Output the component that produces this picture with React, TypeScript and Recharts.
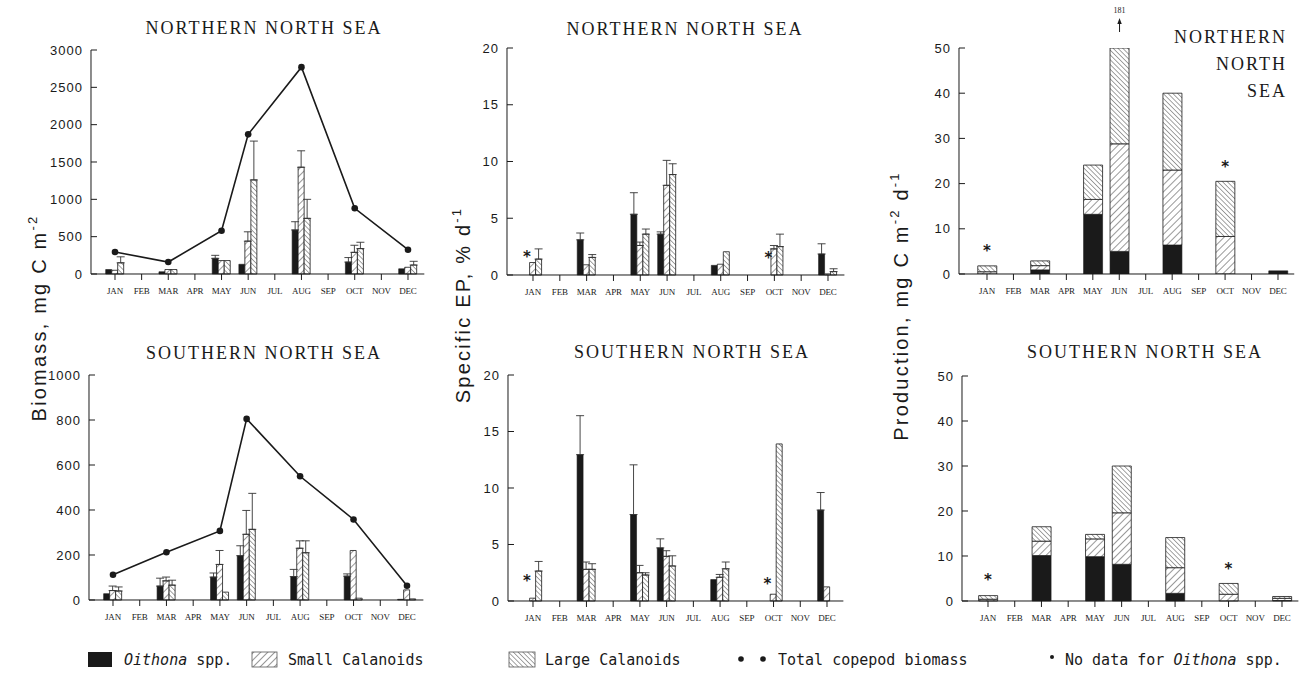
import React from "react";
import { Bar, ComposedChart, ErrorBar, LabelList, Line, XAxis, YAxis } from "recharts";

const INK = "#1a1a1a";

const months = ["JAN", "FEB", "MAR", "APR", "MAY", "JUN", "JUL", "AUG", "SEP", "OCT", "NOV", "DEC"];

// Northern North Sea, biomass (mg C m-2)
const nBioOith = [60, null, 30, null, 210, 130, null, 590, null, 160, null, 70];
const nBioOithErr = [null, null, null, null, 40, null, null, 110, null, 60, null, null];
const nBioSmall = [50, null, 60, null, 180, 440, null, 1430, null, 290, null, 90];
const nBioSmallErr = [null, null, null, null, null, 125, null, 220, null, 95, null, null];
const nBioLarge = [150, null, 60, null, 180, 1260, null, 745, null, 340, null, 120];
const nBioLargeErr = [80, null, null, null, null, 520, null, 255, null, 85, null, 50];
const nBioTotal = [295, null, 160, null, 580, 1870, null, 2770, null, 880, null, 325];

// Southern North Sea, biomass (mg C m-2)
const sBioOith = [28, null, 62, null, 102, 197, null, 104, null, 106, null, 3];
const sBioOithErr = [null, null, 35, null, 18, 44, null, 32, null, 10, null, null];
const sBioSmall = [42, null, 85, null, 158, 292, null, 230, null, 220, null, 45];
const sBioSmallErr = [20, null, 17, null, 62, 106, null, 33, null, null, null, null];
const sBioLarge = [40, null, 66, null, 35, 314, null, 210, null, 8, null, 5];
const sBioLargeErr = [18, null, 22, null, null, 160, null, 53, null, null, null, null];
const sBioTotal = [112, null, 212, null, 307, 805, null, 550, null, 358, null, 63];

// Northern North Sea, specific EP (% d-1)
const nEpOith = [null, null, 3.1, null, 5.35, 3.6, null, 0.85, null, null, null, 1.85];
const nEpOithErr = [null, null, 0.6, null, 1.9, 0.2, null, null, null, null, null, 0.9];
const nEpSmall = [1.1, null, 0.9, null, 2.6, 7.9, null, 0.95, null, 2.3, null, 0.1];
const nEpSmallErr = [null, null, null, null, 0.3, 2.2, null, null, null, 0.3, null, null];
const nEpLarge = [1.4, null, 1.55, null, 3.6, 8.85, null, 2.05, null, 2.5, null, 0.3];
const nEpLargeErr = [0.9, null, 0.25, null, 0.45, 0.95, null, null, null, 1.1, null, 0.25];
const nEpStar = [1.7, null, null, null, null, null, null, null, null, 1.6, null, null];

// Southern North Sea, specific EP (% d-1)
const sEpOith = [null, null, 12.95, null, 7.65, 4.7, null, 1.9, null, null, null, 8.05];
const sEpOithErr = [null, null, 3.45, null, 4.4, 0.8, null, null, null, null, null, 1.55];
const sEpSmall = [0.25, null, 2.8, null, 2.5, 3.95, null, 2.1, null, 0.6, null, 1.25];
const sEpSmallErr = [null, null, 0.65, null, 0.65, 0.5, null, 0.25, null, null, null, null];
const sEpLarge = [2.65, null, 2.8, null, 2.3, 3.1, null, 2.85, null, 13.9, null, null];
const sEpLargeErr = [0.85, null, 0.5, null, 0.2, 0.9, null, 0.6, null, null, null, null];
const sEpStar = [1.85, null, null, null, null, null, null, null, null, 1.6, null, null];

// Northern North Sea, production (mg C m-2 d-1)
const nProdOith = [0, 0, 0.9, 0, 13.2, 5, 0, 6.4, 0, 0, 0, 0.7];
const nProdSmall = [0.5, 0, 0.95, 0, 3.3, 23.8, 0, 16.6, 0, 8.3, 0, 0];
const nProdLarge = [1.3, 0, 1.05, 0, 7.6, 152.2, 0, 17, 0, 12.2, 0, 0];
const nProdStar = [5.2, null, null, null, null, null, null, null, null, 23.8, null, null];

// Southern North Sea, production (mg C m-2 d-1)
const sProdOith = [0, 0, 10.1, 0, 9.85, 8.15, 0, 1.7, 0, 0, 0, 0.1];
const sProdSmall = [0.4, 0, 3.2, 0, 3.95, 11.45, 0, 5.7, 0, 1.5, 0, 0.5];
const sProdLarge = [0.8, 0, 3.2, 0, 1.0, 10.4, 0, 6.7, 0, 2.4, 0, 0.4];
const sProdStar = [4.8, null, null, null, null, null, null, null, null, 7.3, null, null];

type Col = (number | null)[];

function table(cols: Record<string, Col>, errs: Record<string, Col> = {}) {
  return months.map((m, i) => {
    const row: Record<string, any> = { m };
    for (const k in cols) row[k] = cols[k][i];
    for (const k in errs) row[k] = errs[k][i] == null ? null : [0, errs[k][i]];
    if (cols.oith && cols.small && cols.large && !cols.total) {
      row.sum = Math.round(((cols.oith[i] || 0) + (cols.small[i] || 0) + (cols.large[i] || 0)) * 10) / 10;
    }
    return row;
  });
}

const nBio = table(
  { oith: nBioOith, small: nBioSmall, large: nBioLarge, total: nBioTotal },
  { oithErr: nBioOithErr, smallErr: nBioSmallErr, largeErr: nBioLargeErr }
);
const sBio = table(
  { oith: sBioOith, small: sBioSmall, large: sBioLarge, total: sBioTotal },
  { oithErr: sBioOithErr, smallErr: sBioSmallErr, largeErr: sBioLargeErr }
);
const nEp = table(
  { oith: nEpOith, small: nEpSmall, large: nEpLarge, star: nEpStar, total: [] },
  { oithErr: nEpOithErr, smallErr: nEpSmallErr, largeErr: nEpLargeErr }
);
const sEp = table(
  { oith: sEpOith, small: sEpSmall, large: sEpLarge, star: sEpStar, total: [] },
  { oithErr: sEpOithErr, smallErr: sEpSmallErr, largeErr: sEpLargeErr }
);
const nProd = table({ oith: nProdOith, small: nProdSmall, large: nProdLarge, star: nProdStar });
const sProd = table({ oith: sProdOith, small: sProdSmall, large: sProdLarge, star: sProdStar });

type Geo = { axisX: number; top: number; bottom: number; jan: number; dec: number };
const G1: Geo = { axisX: 91, top: 50, bottom: 274, jan: 115, dec: 408 };
const G2: Geo = { axisX: 507, top: 48, bottom: 275, jan: 533, dec: 828 };
const G3: Geo = { axisX: 959, top: 48, bottom: 274, jan: 987, dec: 1278 };
const G4: Geo = { axisX: 89, top: 375, bottom: 600, jan: 113, dec: 407 };
const G5: Geo = { axisX: 508, top: 375, bottom: 601, jan: 533, dec: 827 };
const G6: Geo = { axisX: 962, top: 376, bottom: 601, jan: 988, dec: 1282 };

const TOP_PAD = 45;
const X_H = 35;
const Y_W = 60;

function Panel({ geo, data, max, step, overflow, children }: any) {
  const band = (geo.dec - geo.jan) / 11;
  const padLeft = geo.jan - geo.axisX - band / 2;
  const plotW = geo.dec + band / 2 + 3 - geo.axisX;
  const ticks: number[] = [];
  for (let v = 0; v <= max; v += step) ticks.push(v);
  return (
    <div style={{ position: "absolute", left: geo.axisX - Y_W, top: geo.top - TOP_PAD }}>
      <ComposedChart
        width={Y_W + plotW + 6}
        height={TOP_PAD + geo.bottom - geo.top + X_H}
        data={data}
        margin={{ top: TOP_PAD, right: 6, bottom: 0, left: 0 }}
        barGap={0}
      >
        <XAxis
          dataKey="m"
          interval={0}
          height={X_H}
          padding={{ left: padLeft, right: 3 }}
          tickSize={6}
          tickMargin={8}
          tick={{ fontSize: 9, fontFamily: "Liberation Serif", fill: INK, letterSpacing: -0.2 }}
          axisLine={{ stroke: INK }}
          tickLine={{ stroke: INK }}
        />
        <YAxis
          type="number"
          domain={[0, max]}
          ticks={ticks}
          interval={0}
          width={Y_W}
          allowDataOverflow={!!overflow}
          tickSize={-6}
          tickMargin={14}
          tick={{ fontSize: 13, fontFamily: "Liberation Sans", fill: INK, letterSpacing: 1 }}
          axisLine={{ stroke: INK }}
          tickLine={{ stroke: INK }}
        />
        {children}
      </ComposedChart>
    </div>
  );
}

const starDot = (dx: number) => (p: any) => {
  if (p.value == null || p.cy == null || isNaN(p.cy)) return <g key={"s" + p.index} />;
  return (
    <text key={"s" + p.index} x={p.cx + dx} y={p.cy + 6} textAnchor="middle" fontSize={15}
      fontWeight="bold" fontFamily="DejaVu Sans" fill={INK}>*</text>
  );
};

const OverLabel = (props: any) => {
  const { x, width, value } = props;
  if (value == null || value <= 50) return null;
  const cx = Number(x) + Number(width) / 2;
  return (
    <g>
      <line x1={cx} x2={cx} y1={TOP_PAD - 16} y2={TOP_PAD - 26} stroke={INK} strokeWidth={1} />
      <path d={`M${cx - 2.2},${TOP_PAD - 24} L${cx},${TOP_PAD - 30} L${cx + 2.2},${TOP_PAD - 24} Z`} fill={INK} />
      <text x={cx} y={TOP_PAD - 35} textAnchor="middle" fontSize={8} fontFamily="Liberation Serif" fill={INK}>
        {value}
      </text>
    </g>
  );
};

function groupedBars(withStar: boolean, withTotal: boolean) {
  const out = [
    <Bar key="o" dataKey="oith" barSize={6} fill={INK} stroke={INK} strokeWidth={0.6} isAnimationActive={false}>
      <ErrorBar dataKey="oithErr" width={4} stroke="#333" strokeWidth={0.9} />
    </Bar>,
    <Bar key="s" dataKey="small" barSize={6} fill="url(#hatchSmall)" stroke={INK} strokeWidth={0.8} isAnimationActive={false}>
      <ErrorBar dataKey="smallErr" width={4} stroke="#333" strokeWidth={0.9} />
    </Bar>,
    <Bar key="l" dataKey="large" barSize={6} fill="url(#hatchLarge)" stroke={INK} strokeWidth={0.8} isAnimationActive={false}>
      <ErrorBar dataKey="largeErr" width={4} stroke="#333" strokeWidth={0.9} />
    </Bar>,
  ];
  if (withTotal)
    out.push(
      <Line key="t" dataKey="total" connectNulls stroke={INK} strokeWidth={1.6}
        dot={{ r: 3.3, fill: INK, stroke: INK, strokeWidth: 0 }} activeDot={false} isAnimationActive={false} />
    );
  if (withStar)
    out.push(
      <Line key="st" dataKey="star" stroke="none" dot={starDot(-6)} activeDot={false} isAnimationActive={false} />
    );
  return out;
}

function stackedBars(withOver: boolean) {
  return [
    <Bar key="o" dataKey="oith" stackId="a" barSize={19} fill={INK} stroke={INK} strokeWidth={0.6} isAnimationActive={false} />,
    <Bar key="s" dataKey="small" stackId="a" barSize={19} fill="url(#hatchSmall)" stroke={INK} strokeWidth={0.8} isAnimationActive={false} />,
    <Bar key="l" dataKey="large" stackId="a" barSize={19} fill="url(#hatchLarge)" stroke={INK} strokeWidth={0.8} isAnimationActive={false}>
      {withOver ? <LabelList dataKey="sum" content={OverLabel} /> : null}
    </Bar>,
    <Line key="st" dataKey="star" stroke="none" dot={starDot(0)} activeDot={false} isAnimationActive={false} />,
  ];
}

const titleStyle = { fontFamily: "Liberation Serif", fontSize: 18, letterSpacing: 2, fill: INK } as const;
const axisLabelStyle = { fontFamily: "Liberation Sans", fontSize: 20, letterSpacing: 2.2, fill: INK } as const;
const legendStyle = { fontFamily: "DejaVu Sans Mono", fontSize: 15, fill: INK } as const;

function Overlay() {
  return (
    <svg width={1306} height={673} style={{ position: "absolute", left: 0, top: 0, pointerEvents: "none" }}>
      <text x={264} y={34} textAnchor="middle" {...titleStyle}>NORTHERN NORTH SEA</text>
      <text x={685} y={35} textAnchor="middle" {...titleStyle}>NORTHERN NORTH SEA</text>
      <text x={1287} y={43} textAnchor="end" {...titleStyle}>NORTHERN</text>
      <text x={1287} y={70} textAnchor="end" {...titleStyle}>NORTH</text>
      <text x={1287} y={97} textAnchor="end" {...titleStyle}>SEA</text>
      <text x={264} y={359} textAnchor="middle" {...titleStyle}>SOUTHERN NORTH SEA</text>
      <text x={692} y={358} textAnchor="middle" {...titleStyle}>SOUTHERN NORTH SEA</text>
      <text x={1145} y={358} textAnchor="middle" {...titleStyle}>SOUTHERN NORTH SEA</text>

      <text x={46} y={318} textAnchor="middle" transform="rotate(-90 46 318)" {...axisLabelStyle}>
        Biomass, mg C m<tspan dy={-9} fontSize={13}>-2</tspan>
      </text>
      <text x={470} y={305} textAnchor="middle" transform="rotate(-90 470 305)" {...axisLabelStyle}>
        Specific EP, % d<tspan dy={-9} fontSize={13}>-1</tspan>
      </text>
      <text x={908} y={306} textAnchor="middle" transform="rotate(-90 908 306)" {...axisLabelStyle}>
        Production, mg C m<tspan dy={-9} fontSize={13}>-2</tspan>
        <tspan dy={9}> d</tspan>
        <tspan dy={-9} fontSize={13}>-1</tspan>
      </text>

      <rect x={88} y={652} width={24} height={15} fill={INK} />
      <text x={124} y={665} {...legendStyle}>
        <tspan fontStyle="italic">Oithona</tspan> spp.
      </text>
      <rect x={252} y={652} width={25} height={15} fill="url(#hatchSmall)" stroke="#555" strokeWidth={0.8} />
      <text x={288} y={665} {...legendStyle}>Small Calanoids</text>
      <rect x={509} y={652} width={26} height={15} fill="url(#hatchLarge)" stroke="#555" strokeWidth={0.8} />
      <text x={545} y={665} {...legendStyle}>Large Calanoids</text>
      <circle cx={741} cy={659} r={2.8} fill={INK} />
      <circle cx={763} cy={659} r={2.8} fill={INK} />
      <text x={778} y={665} {...legendStyle}>Total copepod biomass</text>
      <circle cx={1052} cy={657} r={2} fill={INK} />
      <text x={1065} y={665} {...legendStyle}>
        No data for <tspan fontStyle="italic">Oithona</tspan> spp.
      </text>
    </svg>
  );
}

export default function App() {
  return (
    <div style={{ position: "absolute", left: 0, top: 0, width: 1306, height: 673, background: "#fff", overflow: "hidden" }}>
      <svg width={0} height={0} style={{ position: "absolute" }}>
        <defs>
          <pattern id="hatchSmall" patternUnits="userSpaceOnUse" width={5} height={5} patternTransform="rotate(45)">
            <rect width={5} height={5} fill="#fff" />
            <line x1={0} y1={0} x2={0} y2={5} stroke="#333" strokeWidth={1} />
          </pattern>
          <pattern id="hatchLarge" patternUnits="userSpaceOnUse" width={3.4} height={3.4} patternTransform="rotate(-45)">
            <rect width={3.4} height={3.4} fill="#fff" />
            <line x1={0} y1={0} x2={0} y2={3.4} stroke="#333" strokeWidth={0.9} />
          </pattern>
        </defs>
      </svg>
      <Panel geo={G1} data={nBio} max={3000} step={500}>{groupedBars(false, true)}</Panel>
      <Panel geo={G2} data={nEp} max={20} step={5}>{groupedBars(true, false)}</Panel>
      <Panel geo={G3} data={nProd} max={50} step={10} overflow>{stackedBars(true)}</Panel>
      <Panel geo={G4} data={sBio} max={1000} step={200}>{groupedBars(false, true)}</Panel>
      <Panel geo={G5} data={sEp} max={20} step={5}>{groupedBars(true, false)}</Panel>
      <Panel geo={G6} data={sProd} max={50} step={10}>{stackedBars(false)}</Panel>
      <Overlay />
    </div>
  );
}
